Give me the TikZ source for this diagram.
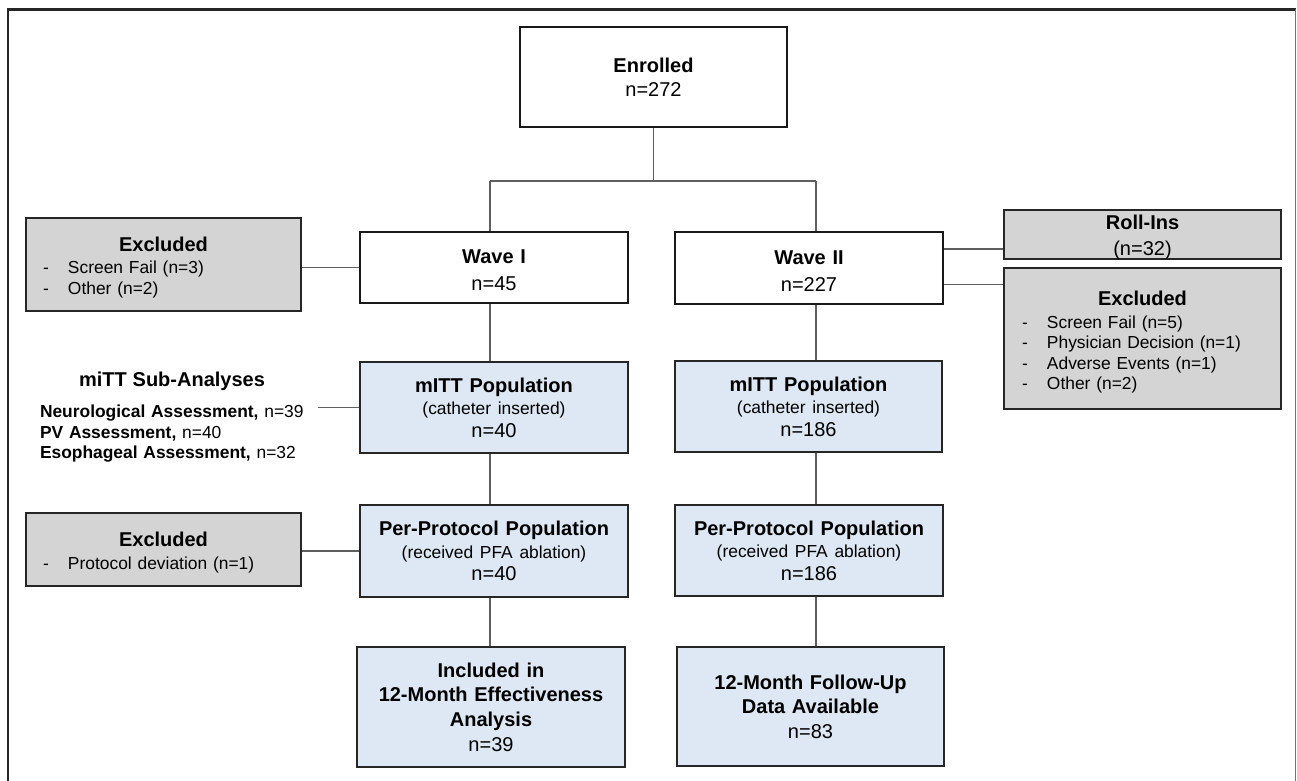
\documentclass[tikz,border=0pt]{standalone}
\usepackage{fontspec}
\setmainfont{Liberation Sans}
\usepackage{tikz}

\definecolor{boxgray}{RGB}{212,212,212}
\definecolor{boxblue}{RGB}{221,232,244}
\definecolor{linkgray}{RGB}{95,95,95}

\newcommand{\maintxt}{\fontsize{10}{12.3}\selectfont}
\newcommand{\smalltxt}{\fontsize{8.7}{10.3}\selectfont}
\newcommand{\dashitem}[1]{\makebox[12.5pt][l]{-}#1}
\newcommand{\topstrut}[1]{\rule{0pt}{#1}}

\tikzset{
  whitebox/.style={draw=black!90, line width=1.3pt, fill=white, inner sep=0pt,
    align=center, font=\maintxt, minimum width=134pt, text width=128pt},
  graybox/.style={draw=black!85, line width=1pt, fill=boxgray, inner sep=0pt,
    minimum width=138pt},
  bluebox/.style={draw=black!85, line width=1pt, fill=boxblue, inner sep=0pt,
    align=center, font=\maintxt, minimum width=134pt, text width=128pt},
  link/.style={draw=linkgray, line width=0.6pt},
}

\begin{document}
\begin{tikzpicture}[x=0.5pt,y=-0.5pt]
\useasboundingbox (0,0) rectangle (1297,781);

% frame, open at the bottom
\draw[line width=1.1pt, draw=black!85] (8,781) -- (8,9.5) -- (1295.5,9.5);
\draw[line width=0.5pt, draw=black!55] (1295.5,9.5) -- (1295.5,781);

% top and the two waves
\node[whitebox, minimum width=133.5pt, minimum height=50pt] (enrolled) at (653.5,77)
  {\textbf{Enrolled}\\[-0.3pt]n=272};
\node[whitebox, minimum height=35.5pt] (waveI) at (494,267.5)
  {\topstrut{10pt}\textbf{Wave I}\\[1.2pt]n=45};
\node[whitebox, minimum height=36pt] (waveII) at (809,268)
  {\topstrut{10pt}\textbf{Wave II}\\[1.2pt]n=227};

% side boxes
\node[graybox, minimum width=137.5pt, minimum height=46.5pt, text width=120.5pt,
  align=left, font=\smalltxt] (exclI) at (163.5,264.5)
  {\makebox[\linewidth]{\maintxt\bfseries\topstrut{10.3pt}Excluded}\\[0.5pt]
   \dashitem{Screen Fail (n=3)}\\
   \dashitem{Other (n=2)}};
\node[graybox, minimum width=138.5pt, minimum height=24.5pt, text width=130pt,
  align=center, font=\maintxt] (rollins) at (1142.5,234.5)
  {\topstrut{10pt}\textbf{Roll-Ins}\\[0.6pt](n=32)};
\node[graybox, minimum width=138.5pt, minimum height=70.5pt, text width=120.5pt,
  align=left, font=\smalltxt] (exclII) at (1142.5,338.5)
  {\makebox[\linewidth]{\maintxt\bfseries\topstrut{10.8pt}Excluded}\\[1.2pt]
   \dashitem{Screen Fail (n=5)}\\
   \dashitem{Physician Decision (n=1)}\\
   \dashitem{Adverse Events (n=1)}\\
   \dashitem{Other (n=2)}};

% sub-analyses text
\node[font=\smalltxt, text width=132pt, align=left, inner sep=0pt] (subana) at (172,417)
  {\makebox[\linewidth]{\maintxt\bfseries miTT Sub-Analyses}\\[5.5pt]
   \textbf{Neurological Assessment,} n=39\\
   \textbf{PV Assessment,} n=40\\
   \textbf{Esophageal Assessment,} n=32};
\coordinate (subend) at (318,407.5);

% populations
\node[bluebox, minimum height=45.5pt] (mittI) at (494,407.5)
  {\textbf{mITT Population}\\[-1pt]{\smalltxt (catheter inserted)}\\[-1pt]n=40};
\node[bluebox, minimum width=133.5pt, minimum height=45.5pt] (mittII) at (808.5,406.5)
  {\textbf{mITT Population}\\[-1pt]{\smalltxt (catheter inserted)}\\[-1pt]n=186};
\node[bluebox, minimum height=46pt] (ppI) at (494,551)
  {\textbf{Per-Protocol Population}\\[-1pt]{\smalltxt (received PFA ablation)}\\[-1pt]n=40};
\node[bluebox, minimum height=45.5pt] (ppII) at (809,550.5)
  {\textbf{Per-Protocol Population}\\[-1pt]{\smalltxt (received PFA ablation)}\\[-1pt]n=186};
\node[graybox, minimum width=137.5pt, minimum height=36.5pt, text width=120.5pt,
  align=left, font=\smalltxt] (exclpp) at (163.5,549.5)
  {\makebox[\linewidth]{\maintxt\bfseries\topstrut{10.3pt}Excluded}\\[1pt]
   \dashitem{Protocol deviation (n=1)}};

% twelve months
\node[bluebox, minimum height=60pt] (effI) at (491,707)
  {\textbf{Included in}\\\textbf{12-Month Effectiveness}\\\textbf{Analysis}\\n=39};
\node[bluebox, minimum width=133.5pt, minimum height=59.5pt] (fuII) at (810.5,706.5)
  {\textbf{12-Month Follow-Up}\\\textbf{Data Available}\\n=83};

% connectors
\coordinate (splitI) at (490,181);
\coordinate (splitII) at (816,181);
\draw[link] (enrolled.south) -- (enrolled.south |- splitI);
\draw[link] (splitI) -- (splitII);
\draw[link] (splitI) -- (splitI |- waveI.north);
\draw[link] (splitII) -- (splitII |- waveII.north);

\draw[link] (splitI |- waveI.south) -- (splitI |- mittI.north);
\draw[link] (splitI |- mittI.south) -- (splitI |- ppI.north);
\draw[link] (splitI |- ppI.south) -- (splitI |- effI.north);
\draw[link] (splitII |- waveII.south) -- (splitII |- mittII.north);
\draw[link] (splitII |- mittII.south) -- (splitII |- ppII.north);
\draw[link] (splitII |- ppII.south) -- (splitII |- fuII.north);

\draw[link] (exclI.east |- waveI.west) -- (waveI.west);
\draw[link] (waveII.8.7) -- (waveII.8.7 -| rollins.west);
\draw[link] (waveII.-7) -- (waveII.-7 -| exclII.west);
\draw[link] (subend) -- (mittI.west);
\draw[link] (exclpp.east |- ppI.west) -- (ppI.west);

\end{tikzpicture}
\end{document}
